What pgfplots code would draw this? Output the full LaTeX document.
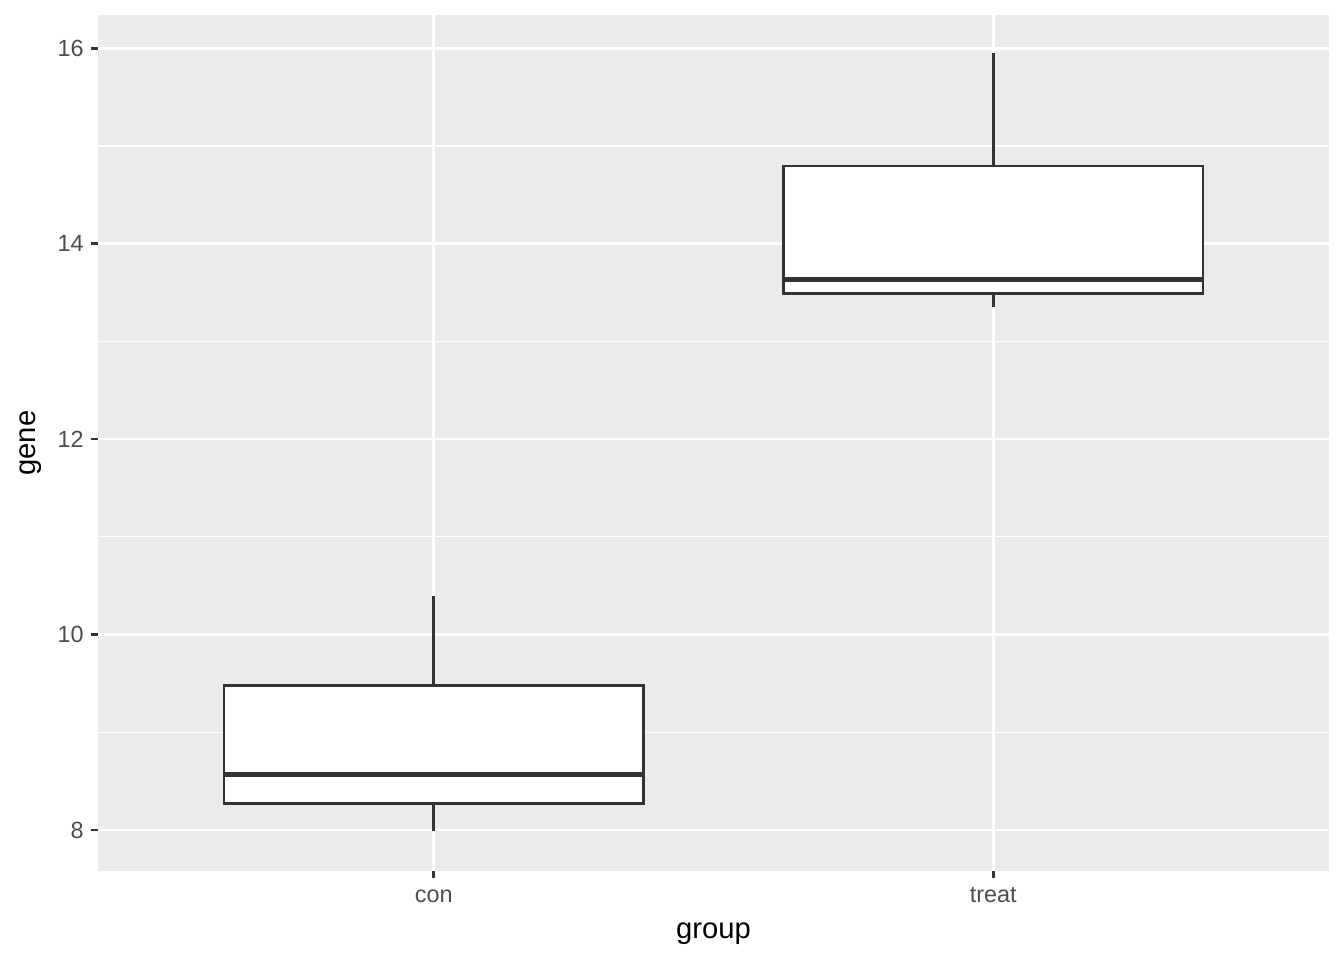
\documentclass[border=0pt]{standalone}
\usepackage{fontspec}
\setmainfont{Liberation Sans}
\usepackage{pgfplots}
\pgfplotsset{compat=1.18}
\definecolor{panelbg}{HTML}{EBEBEB}
\definecolor{gtxt}{HTML}{4D4D4D}
\definecolor{gline}{HTML}{333333}
\begin{document}
\begin{tikzpicture}[x=1pt,y=1pt]
\path (0,0) rectangle (672,480);
\begin{axis}[at={(49pt,44.5pt)}, anchor=south west, scale only axis,
  width=615.5pt, height=428pt,
  xmin=0.4, xmax=2.6, ymin=7.58, ymax=16.34,
  xtick={1,2}, xticklabels={con,treat},
  ytick={8,10,12,14,16}, minor ytick={9,11,13,15},
  axis background/.style={fill=panelbg},
  axis line style={draw=none},
  xmajorgrids, ymajorgrids, yminorgrids,
  major grid style={white, line width=1.35pt},
  minor grid style={white, line width=0.68pt},
  tick align=outside, xtick pos=lower, ytick pos=left,
  major tick style={gline, line width=1.35pt}, major tick length=3.65pt,
  minor tick length=0pt,
  ticklabel style={font=\fontsize{11.7}{13}\selectfont, text=gtxt},
  xticklabel style={text height=8.5pt, text depth=2.4pt},
  /pgf/number format/assume math mode=true,
  xlabel={group}, ylabel={gene},
  label style={font=\fontsize{14.6}{16}\selectfont},
  xlabel style={at={(axis description cs:0.5,-0.0783)}, anchor=base},
  ylabel style={at={(axis description cs:-0.0504,0.5)}, anchor=base},
]
% con: whiskers, box, median
\addplot[gline, line width=1.25pt] coordinates {(1,7.99) (1,8.271)};
\addplot[gline, line width=1.25pt] coordinates {(1,9.478) (1,10.39)};
\addplot[draw=gline, fill=white, line width=1.25pt] coordinates
  {(0.625,8.271) (1.375,8.271) (1.375,9.478) (0.625,9.478)} -- cycle;
\addplot[gline, line width=2.5pt] coordinates {(0.625,8.568) (1.375,8.568)};
% treat
\addplot[gline, line width=1.25pt] coordinates {(2,13.35) (2,13.49)};
\addplot[gline, line width=1.25pt] coordinates {(2,14.793) (2,15.95)};
\addplot[draw=gline, fill=white, line width=1.25pt] coordinates
  {(1.625,13.49) (2.375,13.49) (2.375,14.793) (1.625,14.793)} -- cycle;
\addplot[gline, line width=2.5pt] coordinates {(1.625,13.637) (2.375,13.637)};
\end{axis}
\end{tikzpicture}
\end{document}
